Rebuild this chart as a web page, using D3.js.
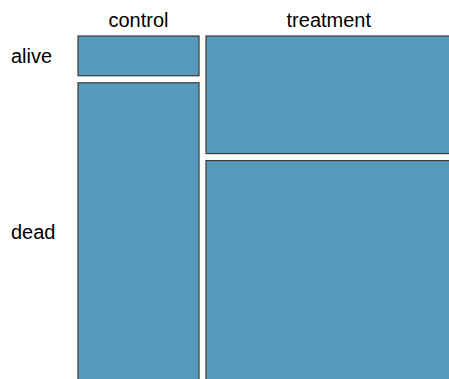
<!DOCTYPE html>
<html>
<head>
<meta charset="utf-8">
<script src="https://cdn.jsdelivr.net/npm/d3@7"></script>
<style>
  body { margin: 0; background: #fff; }
  text { font-family: "Liberation Sans", Arial, Helvetica, sans-serif; fill: #000; }
</style>
</head>
<body>
<script>
// Groups (columns) and outcomes (rows)
var groups = ["control", "treatment"];
var outcomes = ["alive", "dead"];
// Counts per group, in outcome order
var alive = [4, 24];
var dead = [30, 45];

var width = 449, height = 379;
var marginLeft = 78, marginTop = 36, gap = 7;
var plotW = 366.6, plotH = 338;

var svg = d3.select("body").append("svg")
    .attr("width", width)
    .attr("height", height);

// Build a table of cells
var totals = groups.map(function (g, i) { return alive[i] + dead[i]; });
var grand = d3.sum(totals);

// Scale for column widths from group totals
var x = d3.scaleLinear().domain([0, grand]).range([0, plotW]);
// Scale for row heights within a column (proportions)
var y = d3.scaleLinear().domain([0, 1]).range([0, plotH]);

var cells = [];
var cum = 0;
groups.forEach(function (g, i) {
    var x0 = marginLeft + x(cum) + i * gap;
    var w = x(totals[i]);
    var vals = [alive[i], dead[i]];
    var ycum = 0;
    vals.forEach(function (v, j) {
        var p = v / totals[i];
        cells.push({
            group: g, outcome: outcomes[j],
            x: x0, w: w,
            y: marginTop + y(ycum) + j * gap, h: y(p)
        });
        ycum += p;
    });
    cum += totals[i];
});

svg.selectAll("rect.cell").data(cells).enter()
    .append("rect")
    .attr("class", "cell")
    .attr("x", function (d) { return d.x; })
    .attr("y", function (d) { return d.y; })
    .attr("width", function (d) { return d.w; })
    .attr("height", function (d) { return d.h; })
    .style("fill", "#569BBD")
    .style("stroke", "#3a3a3a")
    .style("stroke-width", 1.2);

// Column labels
svg.selectAll("text.col").data(groups).enter()
    .append("text")
    .attr("class", "col")
    .attr("x", function (d, i) {
        var c = cells.filter(function (e) { return e.group == d; })[0];
        return c.x + c.w / 2;
    })
    .attr("y", 26.5)
    .attr("text-anchor", "middle")
    .style("font-size", "20px")
    .text(function (d) { return d; });

// Row labels, centred on the first column's cells
svg.selectAll("text.row").data(outcomes).enter()
    .append("text")
    .attr("class", "row")
    .attr("x", 11)
    .attr("y", function (d) {
        var c = cells.filter(function (e) { return e.group == groups[0] && e.outcome == d; })[0];
        return c.y + c.h / 2 + 7.5;
    })
    .style("font-size", "20px")
    .text(function (d) { return d; });
</script>
</body>
</html>
